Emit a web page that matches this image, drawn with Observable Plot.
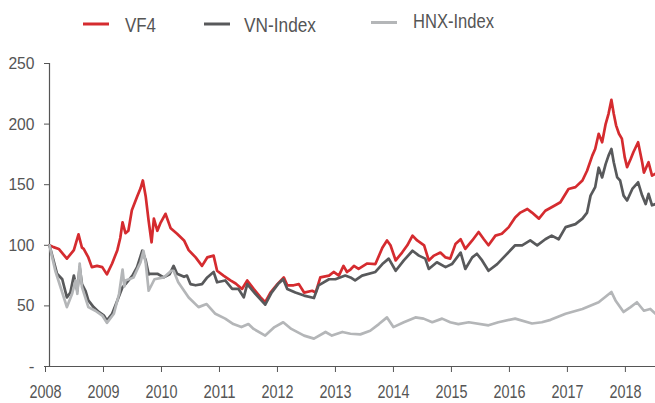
<!DOCTYPE html>
<html><head><meta charset="utf-8">
<script src="https://cdn.jsdelivr.net/npm/d3@7"></script>
<script src="https://cdn.jsdelivr.net/npm/@observablehq/plot@0.6"></script>
<style>
html,body{margin:0;padding:0;background:#fff;}
#chart{width:655px;}
svg{display:block;}
</style></head><body><div id="chart"></div>
<script>
const seriesNames = ["VF4", "VN-Index", "HNX-Index"];
const seriesColors = ["#d52b2f", "#58595b", "#b4b6b8"];
const yearTicks = [2008, 2009, 2010, 2011, 2012, 2013, 2014, 2015, 2016, 2017, 2018];
const valueTicks = [0, 50, 100, 150, 200, 250];

// [decimal year, index value]
const vf4 = [[2008.00,100],[2008.07,98.5],[2008.16,97],[2008.30,89],[2008.42,96],[2008.50,109],[2008.56,98],[2008.59,97],[2008.67,90],[2008.73,82],
[2008.82,83],[2008.91,82],[2008.99,76],[2009.08,85],[2009.17,96],[2009.22,106],[2009.26,119],[2009.31,110],[2009.36,112],[2009.42,129],
[2009.51,140],[2009.57,147],[2009.61,153.5],[2009.66,140],[2009.71,120],[2009.76,102.5],[2009.80,122],[2009.86,112],[2009.91,118],[2010.00,126],
[2010.09,114],[2010.20,109.5],[2010.32,104],[2010.40,96],[2010.52,90],[2010.63,83],[2010.72,90],[2010.83,91.5],[2010.89,79],[2011.00,75],
[2011.12,71],[2011.21,68.5],[2011.32,64],[2011.41,71],[2011.52,64],[2011.64,57],[2011.72,53],[2011.81,61],[2011.93,68],[2012.04,73.5],
[2012.10,67],[2012.21,67],[2012.30,68],[2012.39,61],[2012.53,62.5],[2012.59,61],[2012.67,73.5],[2012.82,75],[2012.90,78],[2012.99,75],
[2013.07,83],[2013.13,78],[2013.19,80],[2013.25,83],[2013.33,80.5],[2013.48,85],[2013.62,84.5],[2013.74,98],[2013.82,104],[2013.88,100],
[2013.97,87.5],[2014.08,94],[2014.17,100],[2014.26,108],[2014.34,104],[2014.46,100],[2014.54,87.5],[2014.63,91.5],[2014.74,94],[2014.83,90],
[2014.91,89],[2015.00,101],[2015.09,105],[2015.17,97],[2015.29,104],[2015.40,111],[2015.49,105],[2015.57,100],[2015.69,108],[2015.80,109.5],
[2015.92,115],[2016.03,123],[2016.12,127],[2016.24,130],[2016.32,127],[2016.44,122],[2016.55,128.5],[2016.72,133],[2016.81,135.5],[2016.95,146.5],
[2017.07,148],[2017.19,153.5],[2017.27,161.5],[2017.36,174],[2017.41,179.5],[2017.47,192],[2017.53,185],[2017.59,200],[2017.64,208.5],[2017.69,220],
[2017.73,208.5],[2017.77,199],[2017.82,192],[2017.87,188],[2017.92,172.5],[2017.96,164.5],[2018.02,171],[2018.07,177],[2018.15,185],[2018.22,168.5],
[2018.25,160],[2018.33,168.5],[2018.39,157.5],[2018.45,159]];

const vnIndex = [[2008.00,100],[2008.10,82],[2008.13,76.5],[2008.22,72],[2008.30,57],[2008.36,61],[2008.42,75],[2008.48,62.5],[2008.52,82],[2008.56,68],
[2008.62,62.5],[2008.67,54.5],[2008.76,49],[2008.85,45],[2008.94,42],[2008.99,38],[2009.08,43.5],[2009.17,54.5],[2009.26,65.5],[2009.31,68],
[2009.43,75],[2009.51,82],[2009.60,95.5],[2009.66,87.5],[2009.71,76],[2009.74,76.5],[2009.86,76.5],[2009.97,73.5],[2010.07,76],[2010.14,83],
[2010.20,76.5],[2010.32,74],[2010.37,75],[2010.43,68],[2010.52,67],[2010.63,68],[2010.72,73.5],[2010.83,78],[2010.89,69.5],[2011.03,71],
[2011.15,64],[2011.26,64],[2011.35,57],[2011.41,68],[2011.55,60],[2011.72,51],[2011.83,61],[2011.94,68],[2012.03,72],[2012.10,64],
[2012.24,61],[2012.39,58.5],[2012.56,56.5],[2012.64,67],[2012.82,72],[2012.93,72],[2013.10,75],[2013.19,73.5],[2013.27,71],[2013.39,75],
[2013.62,78],[2013.74,84.5],[2013.85,89],[2013.97,79],[2014.11,87.5],[2014.26,95.5],[2014.37,91.5],[2014.48,89],[2014.54,80.5],[2014.68,86],
[2014.83,82],[2014.94,84.5],[2015.09,94],[2015.17,80.5],[2015.29,90],[2015.37,93],[2015.46,87.5],[2015.57,79],[2015.72,84.5],[2015.86,91.5],
[2016.03,100],[2016.15,100],[2016.29,104],[2016.41,100],[2016.55,105],[2016.66,108],[2016.78,105],[2016.90,115],[2017.07,117.5],[2017.19,122],
[2017.27,127],[2017.33,141],[2017.41,148],[2017.47,164],[2017.53,156],[2017.59,167],[2017.64,174],[2017.69,179.5],[2017.73,168.5],[2017.79,156],
[2017.84,153.5],[2017.90,141],[2017.96,137],[2018.05,146.5],[2018.15,152],[2018.22,141],[2018.28,134],[2018.33,142.5],[2018.39,133],[2018.45,134]];

const hnxIndex = [[2008.00,100],[2008.10,79],[2008.30,49],[2008.39,60],[2008.45,71],[2008.48,60],[2008.52,85],[2008.56,65.5],[2008.67,49],[2008.79,46],
[2008.91,42],[2008.99,36],[2009.11,43.5],[2009.20,60],[2009.26,80],[2009.29,66],[2009.31,71],[2009.45,73.5],[2009.57,86],[2009.62,95.5],
[2009.66,85],[2009.71,62.5],[2009.81,72],[2009.97,73.5],[2010.10,79],[2010.14,79],[2010.22,69.5],[2010.40,57],[2010.57,49],[2010.71,51.5],
[2010.86,43.5],[2011.03,39.5],[2011.17,35],[2011.31,32.5],[2011.43,35],[2011.52,31],[2011.72,25.5],[2011.88,32.5],[2012.03,36.5],[2012.17,31],
[2012.39,25.5],[2012.56,23],[2012.76,28.5],[2012.87,25.5],[2013.05,28.5],[2013.19,27],[2013.36,26.5],[2013.53,29.5],[2013.68,35],[2013.82,40.5],
[2013.93,32.5],[2014.11,36.5],[2014.31,40.5],[2014.45,39.5],[2014.60,36.5],[2014.77,39.5],[2014.91,36.5],[2015.05,35],[2015.23,36.5],[2015.57,34],
[2015.74,36.5],[2016.03,39.5],[2016.32,35.5],[2016.49,36.5],[2016.64,38.5],[2016.90,43.5],[2017.19,47.5],[2017.47,53],[2017.69,61.5],[2017.76,54.5],
[2017.90,45],[2018.02,49],[2018.13,53],[2018.25,46],[2018.36,47.5],[2018.45,43.5]];

const seriesData = [vf4, vnIndex, hnxIndex];
const rows = [];
seriesData.forEach((s, i) => s.forEach(([t, v]) => rows.push({t, v, series: seriesNames[i]})));

const font = "'Liberation Sans', Arial, sans-serif";
const ink = "#555";

// Legend (above the plot)
const legend = d3.create("svg").attr("width", 655).attr("height", 45)
  .style("font-family", font).style("display", "block");
const legendPos = [
  {lx: 83, tx: 125, ly: 24, ty: 32, w: 31},
  {lx: 204, tx: 244, ly: 24, ty: 32, w: 72},
  {lx: 371, tx: 413, ly: 22.5, ty: 28, w: 81}
];
seriesNames.forEach((name, i) => {
  const p = legendPos[i];
  legend.append("line").attr("x1", p.lx).attr("x2", p.lx + 26).attr("y1", p.ly).attr("y2", p.ly)
    .attr("stroke", seriesColors[i]).attr("stroke-width", 3);
  legend.append("text").attr("x", p.tx).attr("y", p.ty).attr("fill", ink)
    .attr("font-size", 21).attr("textLength", p.w).attr("lengthAdjust", "spacingAndGlyphs").text(name);
});
document.getElementById("chart").appendChild(legend.node());

const chart = Plot.plot({
  width: 655, height: 358,
  marginLeft: 49, marginRight: 0, marginTop: 18, marginBottom: 37,
  style: {fontFamily: font, fontSize: "18px", color: ink, background: "white", overflow: "visible"},
  x: {type: "linear", domain: [2008, 2018.45], label: null},
  y: {domain: [0, 250], label: null},
  color: {domain: seriesNames, range: seriesColors},
  marks: [
    Plot.axisY({ticks: valueTicks, tickFormat: d => d === 0 ? "-" : String(d), tickSize: 5, tickPadding: 10, stroke: ink, fill: ink, fontSize: 17, label: null}),
    Plot.axisX({ticks: yearTicks, tickFormat: d => String(d), tickSize: 6, tickPadding: 12, dx: -4, stroke: ink, fill: ink, fontSize: 19, label: null}),
    Plot.ruleX([2008], {stroke: ink, strokeWidth: 1.2}),
    Plot.ruleY([0], {stroke: ink, strokeWidth: 1.2}),
    Plot.lineY(rows, {x: "t", y: "v", z: "series", stroke: "series", strokeWidth: 2.7, strokeLinejoin: "round"})
  ]
});
// condensed look of the original typeface
d3.select(chart).selectAll('g[aria-label="x-axis tick label"] text')
  .attr("textLength", function () { return this.textContent.length * 8; })
  .attr("lengthAdjust", "spacingAndGlyphs");
d3.select(chart).selectAll('g[aria-label="y-axis tick label"] text')
  .filter(function () { return this.textContent.length > 1; })
  .attr("textLength", function () { return this.textContent.length * 8.7; })
  .attr("lengthAdjust", "spacingAndGlyphs");
document.getElementById("chart").appendChild(chart);
</script></body></html>
